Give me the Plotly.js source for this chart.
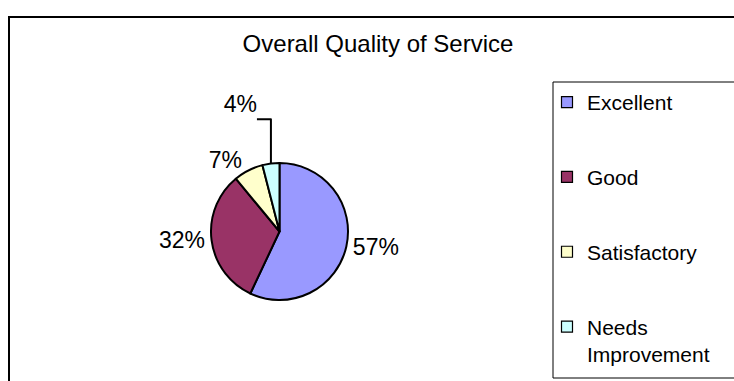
<!DOCTYPE html>
<html>
<head>
<meta charset="utf-8">
<script src="https://cdn.plot.ly/plotly-3.0.1.min.js"></script>
<style>html,body{margin:0;padding:0;background:#fff}#chart{width:734px;height:381px}</style>
</head>
<body>
<div id="chart"></div>
<script>
// Data
var categories = ["Excellent", "Good", "Satisfactory", "Needs Improvement"];
var legendText = ["Excellent", "Good", "Satisfactory", "Needs<br>Improvement"];
var values = [57, 32, 7, 4];
var colors = ["#9999FF", "#993366", "#FFFFCC", "#CCFFFF"];
var titleText = "Overall Quality of Service";
// the smallest slice's label sits one line higher in the reference
var labelTemplates = ["%{percent}", "%{percent}", "%{percent}", "%{percent}<br> "];

var W = 734, H = 381;
function px(x) { return x / W; }
function py(y) { return 1 - y / H; }
var FONT = "Liberation Sans, Arial, sans-serif";

var pie = {
  type: "pie",
  labels: categories,
  values: values,
  sort: false,
  direction: "clockwise",
  rotation: 0,
  marker: { colors: colors, line: { color: "#000000", width: 2 } },
  texttemplate: labelTemplates,
  textposition: "outside",
  outsidetextfont: { family: FONT, size: 23, color: "#000000" },
  hoverinfo: "none",
  showlegend: false,
  domain: { x: [px(211), px(348)], y: [py(300), py(163)] }
};

// legend entries (one per category, same colours as the slices)
var legendTraces = categories.map(function (c, i) {
  return {
    type: "scatter", mode: "markers",
    x: [null], y: [null],
    name: legendText[i],
    legendgroup: "g" + i,
    showlegend: true,
    hoverinfo: "none",
    marker: { symbol: "square", size: 11, color: colors[i], line: { color: "#000000", width: 1.2 } }
  };
});

var layout = {
  width: W, height: H,
  margin: { l: 0, r: 0, t: 0, b: 0 },
  paper_bgcolor: "#ffffff",
  plot_bgcolor: "rgba(0,0,0,0)",
  font: { family: FONT, color: "#000000" },
  xaxis: { visible: false },
  yaxis: { visible: false },
  title: {
    text: titleText,
    font: { family: FONT, size: 24, color: "#000000" },
    x: px(378), xanchor: "center", xref: "paper",
    y: py(44), yanchor: "middle", yref: "container"
  },
  showlegend: true,
  legend: {
    x: px(547), xanchor: "left",
    y: py(82), yanchor: "top",
    valign: "top",
    traceorder: "grouped",
    tracegroupgap: 44.5,
    borderwidth: 0,
    bgcolor: "rgba(0,0,0,0)",
    font: { family: FONT, size: 21, color: "#000000" }
  },
  shapes: [
    { type: "rect", xref: "paper", yref: "paper", x0: px(9), x1: px(760), y0: py(400), y1: py(17),
      line: { color: "#000000", width: 2 } },
    { type: "rect", xref: "paper", yref: "paper", x0: px(553), x1: px(760), y0: py(378), y1: py(82),
      line: { color: "#000000", width: 1 } }
  ]
};

Plotly.newPlot("chart", [pie].concat(legendTraces), layout, { displayModeBar: false, staticPlot: true });
</script>
</body>
</html>
